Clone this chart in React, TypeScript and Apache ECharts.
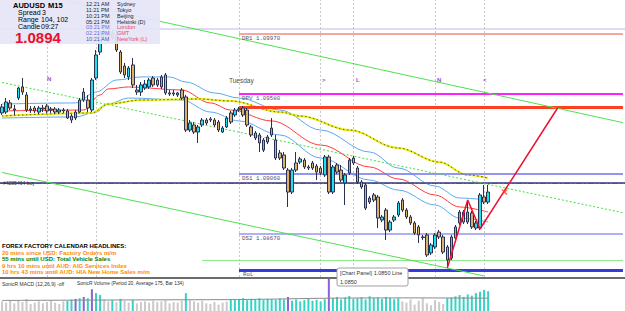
import React, { useEffect, useRef } from 'react';
import * as echarts from 'echarts';

// category slots (15-minute bars); 120 candles + empty slots on the right
const categories: string[] = Array.from({ length: 153 }, (_, i) => String(i));

// [open, close, low, high]
const candles: number[][] = [
  [1.09456, 1.09495, 1.09443, 1.09514], [1.09462, 1.09527, 1.09449, 1.09553], [1.09521, 1.09488, 1.09475, 1.0954], [1.09482, 1.09475, 1.09443, 1.09508],
  [1.09553, 1.09618, 1.0954, 1.09625], [1.09625, 1.09592, 1.09573, 1.09683], [1.09573, 1.09475, 1.09462, 1.09592], [1.09475, 1.09482, 1.09456, 1.09501],
  [1.09488, 1.09469, 1.09456, 1.09501], [1.09462, 1.09488, 1.09449, 1.09501], [1.09488, 1.09482, 1.09462, 1.09508], [1.09501, 1.09469, 1.09456, 1.09514],
  [1.09475, 1.09482, 1.09456, 1.09495], [1.09482, 1.09462, 1.09449, 1.09495], [1.09462, 1.09475, 1.09449, 1.09488], [1.09475, 1.09469, 1.09456, 1.09488],
  [1.09469, 1.09423, 1.09417, 1.09482], [1.09436, 1.0941, 1.09391, 1.09449], [1.09423, 1.09462, 1.0941, 1.09475], [1.09462, 1.0954, 1.09456, 1.09553],
  [1.09592, 1.0954, 1.09527, 1.09618], [1.0954, 1.09488, 1.09462, 1.09573], [1.09475, 1.0967, 1.09462, 1.09683], [1.09683, 1.09833, 1.0967, 1.09865],
  [1.09852, 1.09982, 1.09833, 1.10008], [1.09963, 1.09976, 1.0993, 1.10028], [1.09969, 1.09956, 1.09917, 1.10008], [1.09976, 1.09943, 1.0993, 1.09995],
  [1.09963, 1.09865, 1.09852, 1.09995], [1.09852, 1.09722, 1.09709, 1.09865], [1.09761, 1.09703, 1.09683, 1.09781], [1.0969, 1.09748, 1.0967, 1.09761],
  [1.09768, 1.09638, 1.09618, 1.09813], [1.09605, 1.09592, 1.09573, 1.09638], [1.09592, 1.09638, 1.09566, 1.09657], [1.09618, 1.09644, 1.09605, 1.0967],
  [1.09625, 1.0967, 1.09612, 1.09683], [1.09683, 1.09638, 1.09625, 1.09696], [1.0967, 1.09638, 1.09625, 1.09683], [1.09625, 1.0969, 1.09612, 1.09703],
  [1.09703, 1.09586, 1.09573, 1.09716], [1.09586, 1.09579, 1.09566, 1.09605], [1.09579, 1.09586, 1.09566, 1.09605], [1.09586, 1.09573, 1.0956, 1.09592],
  [1.09605, 1.09553, 1.0954, 1.09618], [1.0956, 1.09345, 1.09332, 1.09573], [1.09345, 1.09391, 1.09332, 1.0941], [1.09378, 1.09332, 1.09319, 1.09397],
  [1.09332, 1.09365, 1.09261, 1.09378], [1.09378, 1.0941, 1.09365, 1.09423], [1.0941, 1.09391, 1.09378, 1.09423], [1.09417, 1.0941, 1.09397, 1.0943],
  [1.0941, 1.09378, 1.09365, 1.09423], [1.09397, 1.09345, 1.09332, 1.0941], [1.09332, 1.09358, 1.09326, 1.09371], [1.09365, 1.09423, 1.09358, 1.09436],
  [1.09456, 1.09397, 1.09384, 1.09469], [1.09443, 1.09475, 1.0943, 1.09488], [1.09482, 1.09475, 1.09462, 1.09495], [1.09488, 1.09443, 1.0943, 1.09501],
  [1.09475, 1.09378, 1.09365, 1.09488], [1.09365, 1.09313, 1.093, 1.09378], [1.09326, 1.09293, 1.0928, 1.09339], [1.09313, 1.09261, 1.09202, 1.09326],
  [1.09215, 1.0928, 1.09202, 1.09293], [1.09267, 1.093, 1.09254, 1.09313], [1.09313, 1.09358, 1.093, 1.09423], [1.0928, 1.09163, 1.0915, 1.09313],
  [1.09196, 1.09163, 1.0915, 1.09215], [1.09183, 1.09098, 1.09085, 1.09202], [1.09085, 1.08942, 1.08845, 1.09098], [1.08942, 1.09085, 1.08929, 1.09098],
  [1.09131, 1.09085, 1.09072, 1.09202], [1.09137, 1.09157, 1.09124, 1.0917], [1.0915, 1.09105, 1.09092, 1.09163], [1.09105, 1.09098, 1.09085, 1.09118],
  [1.09131, 1.09098, 1.09085, 1.09144], [1.09111, 1.09072, 1.0902, 1.09124], [1.09098, 1.09066, 1.09053, 1.09111], [1.09053, 1.0917, 1.0904, 1.09183],
  [1.0917, 1.08942, 1.08929, 1.09183], [1.08942, 1.09105, 1.08929, 1.09118], [1.09118, 1.09072, 1.09059, 1.09131], [1.09085, 1.0902, 1.09007, 1.09118],
  [1.09001, 1.09053, 1.08858, 1.09066], [1.09066, 1.0915, 1.09053, 1.09163], [1.09163, 1.09131, 1.09118, 1.09176], [1.09098, 1.09007, 1.08994, 1.09111],
  [1.09007, 1.08975, 1.08962, 1.0902], [1.08988, 1.08838, 1.08825, 1.09001], [1.08877, 1.08903, 1.08864, 1.08916], [1.08923, 1.0889, 1.08877, 1.08936],
  [1.0891, 1.08773, 1.08708, 1.08923], [1.0876, 1.0878, 1.08747, 1.08793], [1.08825, 1.08695, 1.0863, 1.08838], [1.08695, 1.08747, 1.08682, 1.0876],
  [1.0876, 1.0878, 1.08747, 1.08793], [1.08793, 1.08871, 1.0878, 1.08884], [1.0889, 1.08825, 1.08812, 1.08903], [1.08825, 1.0878, 1.08767, 1.08838],
  [1.0878, 1.08741, 1.08728, 1.08793], [1.08741, 1.08676, 1.08663, 1.08754], [1.08715, 1.08663, 1.08611, 1.08728], [1.0865, 1.08646, 1.0863, 1.08663],
  [1.08663, 1.08533, 1.0852, 1.08676], [1.08546, 1.08598, 1.08533, 1.08611], [1.08585, 1.08663, 1.08572, 1.08676], [1.08682, 1.0865, 1.08637, 1.08695],
  [1.0865, 1.08552, 1.08539, 1.08663], [1.08585, 1.085, 1.08448, 1.08598], [1.08513, 1.0865, 1.085, 1.08663], [1.08643, 1.08715, 1.0863, 1.08728],
  [1.08741, 1.08812, 1.08728, 1.08825], [1.08812, 1.08747, 1.08734, 1.08825], [1.08747, 1.08812, 1.08734, 1.0889], [1.08806, 1.08715, 1.08702, 1.08819],
  [1.08708, 1.08741, 1.08695, 1.08754], [1.08708, 1.08923, 1.08695, 1.08936], [1.0891, 1.08877, 1.08864, 1.08988], [1.08877, 1.08942, 1.08864, 1.08988],
];

// moving averages read at anchor bars: [barIndex, price]
const maRed: number[][] = [[0, 1.09469], [20, 1.09475], [24, 1.09573], [26, 1.09612], [31, 1.09625], [44, 1.09605], [51, 1.09521], [56, 1.09475], [66, 1.09404], [78, 1.09248], [90, 1.09105], [97, 1.09027], [106, 1.08923], [112, 1.08845], [119, 1.08812]];
const maBlueUpper: number[][] = [[0, 1.09514], [18, 1.09521], [23, 1.09592], [28, 1.0967], [34, 1.0969], [41, 1.0969], [45, 1.09657], [52, 1.09586], [58, 1.09553], [68, 1.09475], [78, 1.09345], [90, 1.09202], [97, 1.09098], [106, 1.08981], [112, 1.08903], [119, 1.0889]];
const maBlueLower: number[][] = [[0, 1.09423], [18, 1.0943], [23, 1.09462], [26, 1.09514], [31, 1.09553], [44, 1.0954], [51, 1.09462], [58, 1.09404], [68, 1.09313], [78, 1.09163], [90, 1.0902], [97, 1.08955], [106, 1.08858], [112, 1.08773], [119, 1.08747]];
const maYellow: number[][] = [[0, 1.09436], [22, 1.09456], [26, 1.09514], [34, 1.0954], [48, 1.09547], [56, 1.09534], [68, 1.09462], [73, 1.09436], [85, 1.09345], [97, 1.09228], [107, 1.09137], [114, 1.09053], [119, 1.09033]];

// projection zigzag
const zigzag: number[][] = [[109, 1.08448], [114, 1.0889], [117, 1.08702], [136, 1.09488]];
const signalMark: number[][] = [[123, 1.08942]];

// trend channel lines [[bar, price], [bar, price]]
const channelUpper = [[16, 1.10183], [152, 1.09393]];
const channelMid = [[0, 1.09654], [152, 1.08808]];
const channelLower = [[0, 1.09069], [118, 1.08397]];

// quarter levels
const levels00 = [1.1, 1.09];
const levels50 = [1.095, 1.085];
const levels25 = [1.0975, 1.0925, 1.0875];
const levels125 = [1.10125, 1.09875, 1.09625, 1.09375, 1.09125, 1.08875, 1.08625];

// daily pivot levels (drawn from the day start)
const pivotNames = ['DR1', 'DPV', 'DS1', 'DS2'];
const pivotValues = [1.0997, 1.0958, 1.0906, 1.0867];
const dayStart = 58;
const redLevel = 1.0949;
const rlLevel = 1.08435;
const greenLevel = 1.085;
const greenStart = 49;
const orangeDashLevels = [1.093, 1.08688];
const redDashLevel = 1.0898;
const bidLevel = 1.0894;

const sessionBars = [11, 23, 58, 78, 86, 106, 118];

// volume panel
const volumes: number[] = [
  150, 130, 170, 120, 160, 140, 190, 110, 130, 150, 120, 140, 160, 130, 110, 150,
  160, 180, 190, 200, 220, 200, 340, 280, 250,
  180, 150, 170, 140, 190, 160, 130, 170, 120, 140,
  150, 130, 160, 140, 150, 170, 120, 140, 130, 160,
  280,
  170, 150, 130, 160, 120, 110, 140, 100, 130, 150,
  180, 170, 190, 200, 170, 190, 180, 200, 170, 190, 185, 175, 195, 180,
  220,
  160, 180, 150, 170, 190, 160, 175, 150, 185,
  500,
  200, 220, 180, 210, 235, 190, 200, 215, 180, 230, 200, 210, 190, 220, 205, 185, 200,
  150, 130, 180, 100, 160, 200, 120, 90, 170, 140, 110,
  200, 210, 230, 250, 220, 260, 240, 280, 300, 330, 310,
];
const volumeKinds: string[] = (
  'gggggggggggggggg' + 'ttptptptt' + 'ggtgtggtgg' + 'gggggggggg' + 't' + 'gggggggggg' +
  'tttttttttttttt' + 'p' + 'ttttttttt' + 'p' + 'ttttttttttttttttt' + 'ggggggggggg' + 'ttttttttttt'
).split('');
const volumeAverage: number[][] = [[0, 165], [20, 170], [40, 175], [60, 180], [80, 200], [100, 205], [119, 200]];

const sessionTimes = ['12:21 AM', '11:21 PM', '10:21 PM', '05:21 PM', '03:21 PM', '02:21 PM', '10:21 AM'];
const sessionNames = ['Sydney', 'Tokyo', 'Beijing', 'Helsinki (D)', 'London', 'GMT', 'NewYork (L)'];
const headlines = [
  '20 mins since USD: Factory Orders m/m',
  '55 mins until USD: Total Vehicle Sales',
  '9 hrs 10 mins until AUD: AIG Services Index',
  '10 hrs 43 mins until AUD: HIA New Home Sales m/m',
];
const headlineColors = ['#ff8c00', '#008000', '#ff8c00', '#ff8c00'];
const sessionMarkers = [
  { t: 'N', x: 47, y: 79 },
  { t: '>', x: 322, y: 80 },
  { t: 'L', x: 356, y: 80 },
  { t: 'N', x: 437, y: 80 },
  { t: '<', x: 483, y: 80 },
];

const SANS = 'Liberation Sans';
const MONO = 'Liberation Mono';

export default function App() {
  const ref = useRef<HTMLDivElement>(null);
  useEffect(() => {
    if (!ref.current) return;
    const chart = echarts.init(ref.current, undefined, { renderer: 'svg' });

    const hl = (v: number, color: string, width: number, type: any = 'solid') => ({
      yAxis: v,
      lineStyle: { color, width, type },
    });
    const seg = (a: number[], b: number[], color: string, width: number, type: any = 'solid') => [
      { coord: [String(a[0]), a[1]], lineStyle: { color, width, type } },
      { coord: [String(b[0]), b[1]] },
    ];
    const dashDot = [6, 2, 2, 2];

    const markData: any[] = [
      ...levels125.map((v) => hl(v, '#ececec', 1)),
      ...levels25.map((v) => hl(v, '#f0e6d6', 2)),
      ...levels50.map((v) => hl(v, '#daf3da', 2)),
      ...levels00.map((v) => hl(v, '#dcdcf6', 2)),
      ...sessionBars.map((b) => ({ xAxis: String(b), lineStyle: { color: '#c8c8c8', width: 1, type: [2, 2] } })),
      ...orangeDashLevels.map((v) => hl(v, '#ff8040', 1.2, dashDot)),
      hl(redDashLevel, '#e06060', 1.2, dashDot),
      hl(bidLevel, '#40407a', 1.5),
      seg([dayStart, pivotValues[0]], [152, pivotValues[0]], '#f08a78', 1.5),
      seg([dayStart, pivotValues[1]], [152, pivotValues[1]], '#ff20ff', 2),
      seg([dayStart, redLevel], [152, redLevel], '#ff4020', 3),
      seg([dayStart, pivotValues[2]], [152, pivotValues[2]], '#7070f0', 1.5),
      seg([dayStart, pivotValues[3]], [152, pivotValues[3]], '#b0b0f4', 2),
      seg([greenStart, greenLevel], [152, greenLevel], '#8ee88e', 1),
      seg([dayStart, rlLevel], [152, rlLevel], '#3838e0', 3),
      seg(channelUpper[0], channelUpper[1], '#50e050', 1),
      seg(channelMid[0], channelMid[1], '#40e040', 1, [2, 2]),
      seg(channelLower[0], channelLower[1], '#50e050', 1),
    ];

    const lineS = (data: number[][], color: string, width: number, type: any = 'solid', z = 3) => ({
      type: 'line',
      data,
      xAxisIndex: 0,
      yAxisIndex: 0,
      showSymbol: false,
      symbol: 'none',
      smooth: 0.35,
      smoothMonotone: 'x',
      lineStyle: { color, width, type },
      silent: true,
      z,
    });

    const graphic: any[] = [];
    graphic.push({ type: 'rect', shape: { x: 0, y: 0, width: 160, height: 44 }, style: { fill: 'rgba(229,229,247,0.93)' }, z: 100 });
    const txt = (text: string, x: number, y: number, font: string, fill: string, z = 101) =>
      graphic.push({ type: 'text', x, y, z, style: { text, font, fill, verticalAlign: 'middle' } });
    txt('AUDUSD', 13, 5, `bold 7.5px ${SANS}`, '#000');
    txt('M15', 48, 5, `bold 7.5px ${SANS}`, '#000');
    txt('Spread', 18, 12.5, `7px ${SANS}`, '#000');
    txt('3', 42, 12.5, `7px ${SANS}`, '#000');
    txt('Range', 18, 19.5, `7px ${SANS}`, '#000');
    txt('104, 102', 41, 19.5, `7px ${SANS}`, '#000');
    txt('Candle', 18, 26.5, `7px ${SANS}`, '#000');
    txt('09:27', 41, 26.5, `7px ${SANS}`, '#000');
    txt('1.0894', 15, 37.5, `bold 15px ${SANS}`, '#e8102a');
    const rowY = [4, 10, 15.5, 21.5, 27, 33, 39];
    sessionTimes.forEach((t, i) => {
      txt(t, 86, rowY[i], `5.5px ${SANS}`, i < 4 ? '#202030' : i < 6 ? '#6a6ad8' : '#4a5aa8');
      txt(sessionNames[i], 117, rowY[i], `5.5px ${SANS}`, i < 4 ? '#202030' : '#e04a6a');
    });

    txt('FOREX FACTORY CALENDAR HEADLINES:', 2, 246, `bold 6px ${SANS}`, '#000');
    headlines.forEach((h, i) => txt(h, 2, 253 + i * 6.3, `bold 6px ${SANS}`, headlineColors[i]));

    pivotNames.forEach((n, i) => {
      const yPix = [38, 98, 178, 238][i];
      txt(`${n} ${pivotValues[i].toFixed(5)}`, 242, yPix, `5.8px ${MONO}`, '#505070');
    });
    txt('RoL', 243, 274.5, `5.8px ${MONO}`, '#505070');
    txt('Tuesday', 229, 80, `6.5px ${SANS}`, '#505050');
    sessionMarkers.forEach((m) => txt(m.t, m.x, m.y, `bold 6px ${SANS}`, '#9a50d0'));
    txt('#4285464 buy', 3, 183, `5px ${SANS}`, '#303040');

    graphic.push({ type: 'rect', shape: { x: 0, y: 277, width: 625, height: 2 }, style: { fill: '#6c6c6c' }, z: 100 });
    txt('SonicR MACD (12,26,9) -off', 2, 283.5, `5px ${SANS}`, '#303030');
    txt('SonicR Volume (Period 20, Average 175, Bar 134)', 77, 283.5, `4.8px ${SANS}`, '#303030');

    graphic.push({ type: 'rect', shape: { x: 337, y: 268, width: 71, height: 18, r: 2 }, style: { fill: '#ffffff', stroke: '#a0a0a0', lineWidth: 1 }, z: 102 });
    txt('[Chart Panel] 1.0850 Line', 340, 273, `5.5px ${SANS}`, '#333', 103);
    txt('1.0850', 340, 281.5, `5.5px ${SANS}`, '#333', 103);

    const kindColor: Record<string, string> = { g: '#cacaca', t: '#36d3c4', p: '#8a62d6' };

    chart.setOption({
      animation: false,
      backgroundColor: '#ffffff',
      grid: [
        { left: 0, right: 0, top: 0, height: 277 },
        { left: 0, right: 0, top: 279, height: 32 },
      ],
      xAxis: [
        { type: 'category', data: categories, gridIndex: 0, show: false, boundaryGap: true },
        { type: 'category', data: categories, gridIndex: 1, show: false, boundaryGap: true },
      ],
      yAxis: [
        { type: 'value', gridIndex: 0, min: 1.0839, max: 1.1019, show: false, splitLine: { show: false } },
        { type: 'value', gridIndex: 1, min: 0, max: 500, show: false, splitLine: { show: false } },
      ],
      series: [
        {
          type: 'line',
          data: [],
          xAxisIndex: 0,
          yAxisIndex: 0,
          silent: true,
          z: 1,
          markLine: { silent: true, symbol: ['none', 'none'], label: { show: false }, animation: false, data: markData },
        },
        lineS(maBlueUpper, '#5aaaf0', 1),
        lineS(maBlueLower, '#5aaaf0', 1),
        lineS(maRed, '#ff3a3a', 1),
        lineS(maYellow, '#eeee10', 2),
        lineS(maYellow, '#3a3a00', 0.8, [1.5, 2.5], 4),
        {
          type: 'candlestick',
          data: candles,
          xAxisIndex: 0,
          yAxisIndex: 0,
          barWidth: 3,
          silent: true,
          z: 5,
          itemStyle: { color: '#1ee0ee', color0: '#dcb068', borderColor: '#2a3050', borderColor0: '#2a3050', borderWidth: 1 },
        },
        {
          type: 'line',
          data: zigzag,
          xAxisIndex: 0,
          yAxisIndex: 0,
          showSymbol: false,
          symbol: 'none',
          lineStyle: { color: '#ee1030', width: 1.5 },
          silent: true,
          z: 6,
        },
        {
          type: 'scatter',
          data: signalMark,
          xAxisIndex: 0,
          yAxisIndex: 0,
          symbol: 'path://M0,0L10,10M10,0L0,10',
          symbolSize: 5,
          itemStyle: { color: 'none', borderColor: '#ff4020', borderWidth: 1.5 },
          silent: true,
          z: 7,
        },
        {
          type: 'bar',
          xAxisIndex: 1,
          yAxisIndex: 1,
          barWidth: 2,
          silent: true,
          data: volumes.map((v, i) => ({ value: v, itemStyle: { color: kindColor[volumeKinds[i]] } })),
        },
        {
          type: 'line',
          xAxisIndex: 1,
          yAxisIndex: 1,
          data: volumeAverage,
          showSymbol: false,
          symbol: 'none',
          smooth: 0.3,
          lineStyle: { color: '#8a8a8a', width: 1 },
          silent: true,
          z: 4,
        },
      ],
      graphic,
    });
    return () => chart.dispose();
  }, []);
  return <div ref={ref} style={{ position: 'fixed', left: 0, top: 0, width: 625, height: 311 }} />;
}
